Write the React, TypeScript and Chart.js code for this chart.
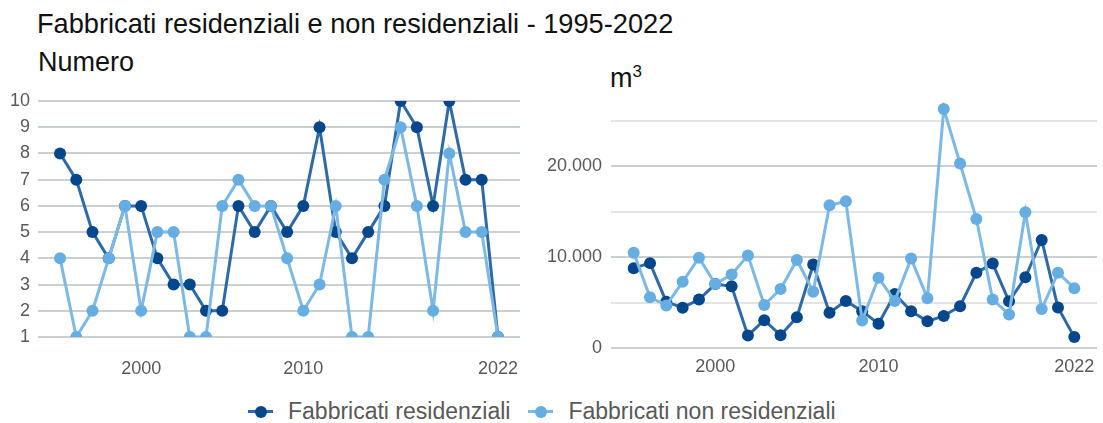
import React, { useEffect, useRef } from 'react';
import { Chart, registerables } from 'chart.js';

Chart.register(...registerables);

const years = [1995, 1996, 1997, 1998, 1999, 2000, 2001, 2002, 2003, 2004, 2005, 2006, 2007, 2008, 2009, 2010, 2011, 2012, 2013, 2014, 2015, 2016, 2017, 2018, 2019, 2020, 2021, 2022];
const resNumero = [8, 7, 5, 4, 6, 6, 4, 3, 3, 2, 2, 6, 5, 6, 5, 6, 9, 5, 4, 5, 6, 10, 9, 6, 10, 7, 7, 1];
const nonResNumero = [4, 1, 2, 4, 6, 2, 5, 5, 1, 1, 6, 7, 6, 6, 4, 2, 3, 6, 1, 1, 7, 9, 6, 2, 8, 5, 5, 1];
const resVolume = [8800, 9350, 5100, 4450, 5350, 7050, 6800, 1400, 3080, 1430, 3400, 9200, 3900, 5200, 4070, 2700, 5950, 4070, 2950, 3550, 4620, 8300, 9300, 5150, 7800, 11900, 4470, 1220];
const nonResVolume = [10500, 5600, 4700, 7300, 9950, 7050, 8100, 10200, 4750, 6500, 9700, 6200, 15700, 16150, 3050, 7750, 5200, 9850, 5500, 26300, 20300, 14200, 5350, 3700, 14950, 4300, 8300, 6600];
const xTickYears = [2000, 2010, 2022];
const numeroTicks = [1, 2, 3, 4, 5, 6, 7, 8, 9, 10];
const volumeTicks = [0, 5000, 10000, 15000, 20000, 25000];
const volumeLabelled = [0, 10000, 20000];

const TITLE = 'Fabbricati residenziali e non residenziali - 1995-2022';
const LABEL_RES = 'Fabbricati residenziali';
const LABEL_NONRES = 'Fabbricati non residenziali';

const DARK_LINE = '#2e6aa8';
const DARK_POINT = '#06468b';
const LIGHT_LINE = '#7db9e4';
const LIGHT_POINT = '#66ade1';
const GRID = '#cbcfcf';
const GRID_LIGHT = '#e3e5e5';
const TICK_COLOR = '#595959';
const FONT = "'Liberation Sans', Arial, sans-serif";

const fmtIt = (v: number) => String(Math.round(v)).replace(/\B(?=(\d{3})+(?!\d))/g, '.');

function makeDatasets(res: number[], nonRes: number[]) {
  return [
    {
      label: LABEL_RES,
      data: years.map((y, i) => ({ x: y, y: res[i] })),
      borderColor: DARK_LINE,
      backgroundColor: DARK_POINT,
      pointBackgroundColor: DARK_POINT,
      pointBorderColor: DARK_POINT,
      pointBorderWidth: 0,
      pointRadius: 6,
      borderWidth: 3,
      tension: 0,
      order: 1,
    },
    {
      label: LABEL_NONRES,
      data: years.map((y, i) => ({ x: y, y: nonRes[i] })),
      borderColor: LIGHT_LINE,
      backgroundColor: LIGHT_POINT,
      pointBackgroundColor: LIGHT_POINT,
      pointBorderColor: LIGHT_POINT,
      pointBorderWidth: 0,
      pointRadius: 6,
      borderWidth: 3,
      tension: 0,
      order: 0,
    },
  ];
}

function xScale(min: number, max: number, labelOffset: number, axisHeight: number) {
  return {
    type: 'linear' as const,
    min,
    max,
    border: { display: false },
    grid: { display: false, drawTicks: true, tickLength: labelOffset },
    afterBuildTicks: (scale: any) => {
      scale.ticks = xTickYears.map((v) => ({ value: v }));
    },
    afterFit: (scale: any) => {
      scale.height = axisHeight;
    },
    ticks: {
      autoSkip: false,
      maxRotation: 0,
      padding: 0,
      color: TICK_COLOR,
      font: { family: FONT, size: 18 },
      callback: (v: any) => String(v),
    },
  };
}

function LineChart(props: {
  res: number[];
  nonRes: number[];
  width: number;
  height: number;
  yOpts: any;
  xOpts: any;
  padding: any;
}) {
  const ref = useRef<HTMLCanvasElement | null>(null);
  useEffect(() => {
    if (!ref.current) return;
    const chart = new Chart(ref.current, {
      type: 'line',
      data: { datasets: makeDatasets(props.res, props.nonRes) as any },
      options: {
        animation: false,
        responsive: false,
        devicePixelRatio: 1,
        layout: { padding: props.padding },
        plugins: { legend: { display: false }, tooltip: { enabled: false }, title: { display: false } },
        scales: { x: props.xOpts, y: props.yOpts },
      } as any,
    });
    return () => chart.destroy();
  }, []);
  return <canvas ref={ref} width={props.width} height={props.height} style={{ width: props.width, height: props.height, display: 'block' }} />;
}

function LegendItem({ line, point, label }: { line: string; point: string; label: string }) {
  return (
    <div style={{ display: 'flex', alignItems: 'center', marginRight: 18 }}>
      <div style={{ position: 'relative', width: 25, height: 24 }}>
        <div style={{ position: 'absolute', left: 0, top: 10.5, width: 25, height: 3, background: line }} />
        <div style={{ position: 'absolute', left: 6.5, top: 6, width: 12, height: 12, borderRadius: '50%', background: point }} />
      </div>
      <span style={{ marginLeft: 15, fontSize: 23, color: TICK_COLOR, fontFamily: FONT, whiteSpace: 'nowrap' }}>{label}</span>
    </div>
  );
}

export default function App() {
  useEffect(() => {
    document.body.style.margin = '0';
  }, []);

  const leftY = {
    min: 1,
    max: 10,
    border: { display: false },
    grid: { color: GRID, lineWidth: 2, drawTicks: true, tickLength: 8, tickColor: 'rgba(0,0,0,0)' },
    afterBuildTicks: (scale: any) => {
      scale.ticks = numeroTicks.map((v) => ({ value: v }));
    },
    afterFit: (scale: any) => {
      scale.width = 38;
    },
    ticks: { autoSkip: false, padding: 0, color: TICK_COLOR, font: { family: FONT, size: 18, lineHeight: 1 } },
  };

  const rightY = {
    min: 0,
    max: 27500,
    border: { display: false },
    grid: {
      color: (ctx: any) => (ctx.tick && volumeLabelled.includes(ctx.tick.value) ? GRID : GRID_LIGHT),
      lineWidth: 2,
      drawTicks: true,
      tickLength: 9,
      tickColor: 'rgba(0,0,0,0)',
    },
    afterBuildTicks: (scale: any) => {
      scale.ticks = volumeTicks.map((v) => ({ value: v }));
    },
    afterFit: (scale: any) => {
      scale.width = 81;
    },
    ticks: {
      autoSkip: false,
      padding: 0,
      color: TICK_COLOR,
      font: { family: FONT, size: 18, lineHeight: 1 },
      callback: (v: any) => (volumeLabelled.includes(Number(v)) ? fmtIt(Number(v)) : ''),
    },
  };

  return (
    <div style={{ position: 'relative', width: 1103, height: 423, background: '#ffffff', overflow: 'hidden', fontFamily: FONT }}>
      <div style={{ position: 'absolute', left: 37, top: 9, fontSize: 27.2, color: '#111111', whiteSpace: 'nowrap', lineHeight: '30px' }}>{TITLE}</div>
      <div style={{ position: 'absolute', left: 38, top: 47, fontSize: 27, color: '#111111', whiteSpace: 'nowrap', lineHeight: '30px' }}>Numero</div>
      <div style={{ position: 'absolute', left: 610, top: 57, fontSize: 27, color: '#111111', whiteSpace: 'nowrap', lineHeight: '30px' }}>
        m<sup style={{ fontSize: 17 }}>3</sup>
      </div>
      <div style={{ position: 'absolute', left: 0, top: 88.7 }}>
        <LineChart
          res={resNumero}
          nonRes={nonResNumero}
          width={530}
          height={300}
          yOpts={leftY}
          xOpts={xScale(1993.64, 2023.36, 21, 52)}
          padding={{ top: 12, right: 10, left: 0, bottom: 0 }}
        />
      </div>
      <div style={{ position: 'absolute', left: 530, top: 85.5 }}>
        <LineChart
          res={resVolume}
          nonRes={nonResVolume}
          width={573}
          height={300}
          yOpts={rightY}
          xOpts={xScale(1993.61, 2023.39, 8, 37.8)}
          padding={{ top: 12, right: 5, left: 0, bottom: 0 }}
        />
      </div>
      <div style={{ position: 'absolute', left: 248, top: 398, display: 'flex', alignItems: 'center' }}>
        <LegendItem line={DARK_LINE} point={DARK_POINT} label={LABEL_RES} />
        <LegendItem line={LIGHT_LINE} point={LIGHT_POINT} label={LABEL_NONRES} />
      </div>
    </div>
  );
}
